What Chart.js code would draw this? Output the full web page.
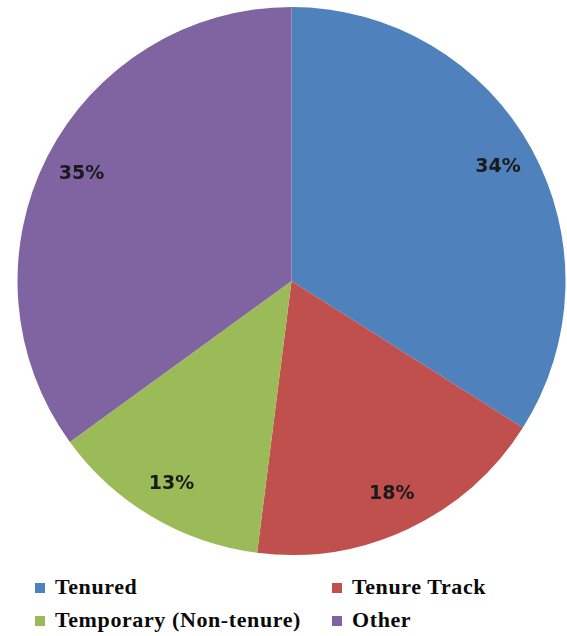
<!DOCTYPE html>
<html>
<head>
<meta charset="utf-8">
<script src="https://cdn.jsdelivr.net/npm/chart.js@4.4.0/dist/chart.umd.min.js"></script>
<style>
  html, body { margin: 0; padding: 0; background: #ffffff; }
  #wrap { position: relative; width: 567px; height: 636px; overflow: hidden; }
  #box { position: absolute; left: 0; top: 0; width: 567px; height: 564px; }
  .lg { position: absolute; font-family: "Liberation Serif", "Times New Roman", serif; font-weight: bold;
        font-size: 22px; line-height: 22px; color: #0a0a0a; white-space: nowrap; letter-spacing: 0.6px; }
  .sw { position: absolute; width: 10px; height: 10px; }
</style>
</head>
<body>
<div id="wrap">
  <div id="box"><canvas id="c"></canvas></div>
  <div id="legend"></div>
</div>
<script>
const categories = ["Tenured", "Tenure Track", "Temporary (Non-tenure)", "Other"];
const percentValues = [34, 18, 13, 35];
const sliceColors = ["#4F81BD", "#C0504D", "#9BBB59", "#8064A2"];

const labelPlugin = {
  id: 'sliceLabels',
  afterDatasetsDraw(chart) {
    const ctx = chart.ctx;
    const meta = chart.getDatasetMeta(0);
    ctx.save();
    ctx.font = 'bold 19px "DejaVu Sans", sans-serif';
    ctx.fillStyle = '#1a1a1a';
    ctx.textAlign = 'center';
    ctx.textBaseline = 'middle';
    meta.data.forEach((arc, i) => {
      const p = arc.getProps(['x', 'y', 'startAngle', 'endAngle', 'outerRadius'], true);
      const mid = (p.startAngle + p.endAngle) / 2;
      const r = p.outerRadius * 0.86;
      ctx.fillText(chart.data.datasets[0].data[i] + '%', p.x + Math.cos(mid) * r, p.y + Math.sin(mid) * r);
    });
    ctx.restore();
  }
};

const chart = new Chart(document.getElementById('c'), {
  type: 'pie',
  data: {
    labels: categories,
    datasets: [{
      data: percentValues,
      backgroundColor: sliceColors,
      borderWidth: 0
    }]
  },
  options: {
    responsive: true,
    maintainAspectRatio: false,
    animation: false,
    layout: { padding: { left: 17, right: 1, top: 7, bottom: 9 } },
    plugins: { legend: { display: false }, tooltip: { enabled: false } }
  },
  plugins: [labelPlugin]
});

// HTML legend, two columns
const legendPos = [
  { x: 35, y: 576 }, { x: 332, y: 576 },
  { x: 35, y: 609 }, { x: 332, y: 609 }
];
const legendEl = document.getElementById('legend');
const items = chart.options.plugins.legend.labels.generateLabels(chart);
items.forEach((it, i) => {
  const pos = legendPos[i];
  const sw = document.createElement('div');
  sw.className = 'sw';
  sw.style.left = pos.x + 'px';
  sw.style.top = (pos.y + 7) + 'px';
  sw.style.background = it.fillStyle;
  legendEl.appendChild(sw);
  const t = document.createElement('div');
  t.className = 'lg';
  t.style.left = (pos.x + 20) + 'px';
  t.style.top = pos.y + 'px';
  t.textContent = it.text;
  legendEl.appendChild(t);
});
</script>
</body>
</html>
